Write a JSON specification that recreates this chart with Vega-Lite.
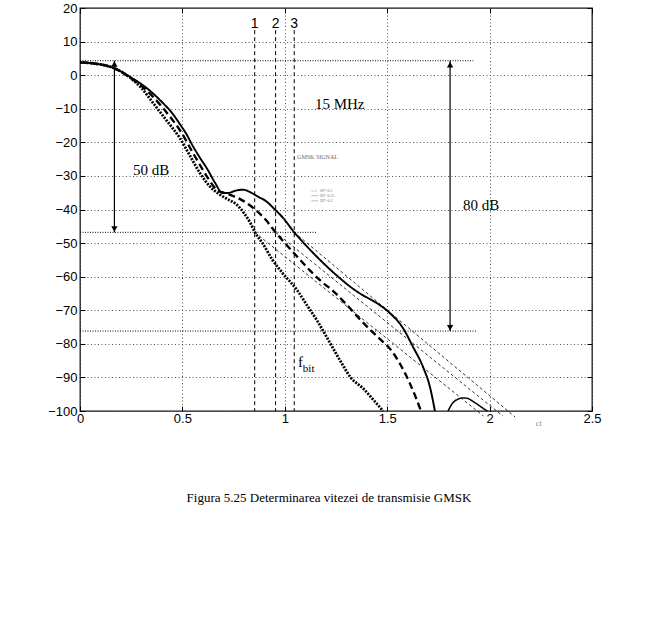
{
  "$schema": "https://vega.github.io/schema/vega-lite/v6.json",
  "width": 512,
  "height": 403,
  "autosize": {"type": "none"},
  "padding": {"left": 80, "top": 8, "right": 58, "bottom": 213},
  "background": "white",
  "config": {
    "view": {"stroke": "#111", "strokeWidth": 1.3},
    "axis": {"labelFont": "Liberation Sans", "labelFontSize": 13, "labelColor": "#000", "tickColor": "#000", "tickSize": -5, "title": null, "domain": false, "labelFlush": false, "labelOverlap": false, "gridColor": "#555", "gridDash": [1, 2.5], "gridWidth": 1}
  },
  "title": {"text": "Figura 5.25 Determinarea vitezei de transmisie GMSK", "orient": "bottom", "font": "Liberation Serif", "fontSize": 13, "fontWeight": "normal", "color": "#000", "offset": 64, "dx": -7},
  "datasets": {
    "curves": [
      {"s": "BT=0.3", "x": 0, "y": 3.8}, {"s": "BT=0.3", "x": 0.05, "y": 3.6}, {"s": "BT=0.3", "x": 0.1, "y": 3.2}, {"s": "BT=0.3", "x": 0.17, "y": 2},
      {"s": "BT=0.3", "x": 0.244, "y": -0.5}, {"s": "BT=0.3", "x": 0.327, "y": -3.9}, {"s": "BT=0.3", "x": 0.405, "y": -8.3}, {"s": "BT=0.3", "x": 0.45, "y": -11.3},
      {"s": "BT=0.3", "x": 0.488, "y": -14.6}, {"s": "BT=0.3", "x": 0.52, "y": -17.6}, {"s": "BT=0.3", "x": 0.55, "y": -21}, {"s": "BT=0.3", "x": 0.59, "y": -25},
      {"s": "BT=0.3", "x": 0.62, "y": -27.8}, {"s": "BT=0.3", "x": 0.66, "y": -32.1}, {"s": "BT=0.3", "x": 0.693, "y": -35}, {"s": "BT=0.3", "x": 0.72, "y": -35.1},
      {"s": "BT=0.3", "x": 0.766, "y": -34.3}, {"s": "BT=0.3", "x": 0.797, "y": -34.1}, {"s": "BT=0.3", "x": 0.83, "y": -34.8}, {"s": "BT=0.3", "x": 0.87, "y": -36.2},
      {"s": "BT=0.3", "x": 0.91, "y": -37.6}, {"s": "BT=0.3", "x": 0.95, "y": -39.9}, {"s": "BT=0.3", "x": 0.99, "y": -42.4}, {"s": "BT=0.3", "x": 1.046, "y": -46.8},
      {"s": "BT=0.3", "x": 1.108, "y": -51}, {"s": "BT=0.3", "x": 1.172, "y": -55}, {"s": "BT=0.3", "x": 1.22, "y": -57.8}, {"s": "BT=0.3", "x": 1.27, "y": -60.5},
      {"s": "BT=0.3", "x": 1.32, "y": -63}, {"s": "BT=0.3", "x": 1.367, "y": -65}, {"s": "BT=0.3", "x": 1.41, "y": -66.5}, {"s": "BT=0.3", "x": 1.45, "y": -67.9},
      {"s": "BT=0.3", "x": 1.514, "y": -70.9}, {"s": "BT=0.3", "x": 1.577, "y": -75.3}, {"s": "BT=0.3", "x": 1.626, "y": -80.9}, {"s": "BT=0.3", "x": 1.675, "y": -86.9},
      {"s": "BT=0.3", "x": 1.709, "y": -92.9}, {"s": "BT=0.3", "x": 1.733, "y": -100},
      {"s": "BT=0.3 lobe", "x": 1.797, "y": -100}, {"s": "BT=0.3 lobe", "x": 1.82, "y": -97.6}, {"s": "BT=0.3 lobe", "x": 1.845, "y": -96.5}, {"s": "BT=0.3 lobe", "x": 1.87, "y": -96.1},
      {"s": "BT=0.3 lobe", "x": 1.895, "y": -96.3}, {"s": "BT=0.3 lobe", "x": 1.92, "y": -97.2}, {"s": "BT=0.3 lobe", "x": 1.95, "y": -98.4}, {"s": "BT=0.3 lobe", "x": 1.968, "y": -99.2},
      {"s": "BT=0.3 lobe", "x": 1.99, "y": -100},
      {"s": "BT=0.25", "x": 0, "y": 3.8}, {"s": "BT=0.25", "x": 0.05, "y": 3.6}, {"s": "BT=0.25", "x": 0.1, "y": 3.2}, {"s": "BT=0.25", "x": 0.17, "y": 2},
      {"s": "BT=0.25", "x": 0.244, "y": -0.7}, {"s": "BT=0.25", "x": 0.3, "y": -3.2}, {"s": "BT=0.25", "x": 0.35, "y": -6}, {"s": "BT=0.25", "x": 0.405, "y": -9.8},
      {"s": "BT=0.25", "x": 0.45, "y": -13.2}, {"s": "BT=0.25", "x": 0.488, "y": -16.4}, {"s": "BT=0.25", "x": 0.55, "y": -23}, {"s": "BT=0.25", "x": 0.59, "y": -27.2},
      {"s": "BT=0.25", "x": 0.62, "y": -30.2}, {"s": "BT=0.25", "x": 0.67, "y": -34.2}, {"s": "BT=0.25", "x": 0.7, "y": -35}, {"s": "BT=0.25", "x": 0.74, "y": -35.8},
      {"s": "BT=0.25", "x": 0.79, "y": -37.2}, {"s": "BT=0.25", "x": 0.845, "y": -39.5}, {"s": "BT=0.25", "x": 0.91, "y": -43.3}, {"s": "BT=0.25", "x": 0.955, "y": -46.8},
      {"s": "BT=0.25", "x": 1.0, "y": -50}, {"s": "BT=0.25", "x": 1.06, "y": -54}, {"s": "BT=0.25", "x": 1.12, "y": -58}, {"s": "BT=0.25", "x": 1.18, "y": -61.5},
      {"s": "BT=0.25", "x": 1.24, "y": -64.5}, {"s": "BT=0.25", "x": 1.3, "y": -68.2}, {"s": "BT=0.25", "x": 1.367, "y": -72.7}, {"s": "BT=0.25", "x": 1.42, "y": -76},
      {"s": "BT=0.25", "x": 1.465, "y": -78.6}, {"s": "BT=0.25", "x": 1.514, "y": -81.5}, {"s": "BT=0.25", "x": 1.563, "y": -86}, {"s": "BT=0.25", "x": 1.61, "y": -91.7},
      {"s": "BT=0.25", "x": 1.64, "y": -96}, {"s": "BT=0.25", "x": 1.665, "y": -100},
      {"s": "BT=0.2", "x": 0, "y": 3.8}, {"s": "BT=0.2", "x": 0.05, "y": 3.6}, {"s": "BT=0.2", "x": 0.1, "y": 3.2}, {"s": "BT=0.2", "x": 0.17, "y": 2},
      {"s": "BT=0.2", "x": 0.25, "y": -1}, {"s": "BT=0.2", "x": 0.3, "y": -3.8}, {"s": "BT=0.2", "x": 0.357, "y": -8.3}, {"s": "BT=0.2", "x": 0.424, "y": -13.6},
      {"s": "BT=0.2", "x": 0.488, "y": -18.8}, {"s": "BT=0.2", "x": 0.537, "y": -24}, {"s": "BT=0.2", "x": 0.586, "y": -29.2}, {"s": "BT=0.2", "x": 0.635, "y": -33.2},
      {"s": "BT=0.2", "x": 0.684, "y": -35.6}, {"s": "BT=0.2", "x": 0.72, "y": -36.9}, {"s": "BT=0.2", "x": 0.766, "y": -38.6}, {"s": "BT=0.2", "x": 0.8, "y": -41},
      {"s": "BT=0.2", "x": 0.83, "y": -43.8}, {"s": "BT=0.2", "x": 0.855, "y": -46.8}, {"s": "BT=0.2", "x": 0.894, "y": -50.3}, {"s": "BT=0.2", "x": 0.94, "y": -55},
      {"s": "BT=0.2", "x": 0.99, "y": -59}, {"s": "BT=0.2", "x": 1.06, "y": -64}, {"s": "BT=0.2", "x": 1.108, "y": -68.5}, {"s": "BT=0.2", "x": 1.157, "y": -73},
      {"s": "BT=0.2", "x": 1.2, "y": -77.5}, {"s": "BT=0.2", "x": 1.24, "y": -81.8}, {"s": "BT=0.2", "x": 1.28, "y": -86}, {"s": "BT=0.2", "x": 1.32, "y": -89.9},
      {"s": "BT=0.2", "x": 1.383, "y": -93.3}, {"s": "BT=0.2", "x": 1.43, "y": -96.5}, {"s": "BT=0.2", "x": 1.48, "y": -100}
    ],
    "tangents": [
      {"s": "1", "x": 0.853, "y": -46.8}, {"s": "1", "x": 1.97, "y": -101.5},
      {"s": "2", "x": 0.955, "y": -46.8}, {"s": "2", "x": 2.065, "y": -101.5},
      {"s": "3", "x": 1.046, "y": -46.8}, {"s": "3", "x": 2.125, "y": -101.8}
    ],
    "verticals": [
      {"label": "1", "x": 0.853, "y": 13.4, "y2": -100},
      {"label": "2", "x": 0.955, "y": 13.4, "y2": -100},
      {"label": "3", "x": 1.046, "y": 13.4, "y2": -100}
    ],
    "levels": [
      {"x": 0, "x2": 1.92, "y": 4.3},
      {"x": 0, "x2": 1.155, "y": -46.8},
      {"x": 0, "x2": 1.937, "y": -76.2}
    ],
    "arrows": [
      {"x": 0.168, "y": 4.3, "y2": -46.8},
      {"x": 1.807, "y": 4.3, "y2": -76.2}
    ],
    "heads": [
      {"x": 0.168, "y": 3.3, "dir": "up"}, {"x": 0.168, "y": -45.8, "dir": "down"},
      {"x": 1.807, "y": 3.1, "dir": "up"}, {"x": 1.807, "y": -75.2, "dir": "down"}
    ],
    "notes": [
      {"x": 0.259, "y": -28.3, "label": "50 dB"},
      {"x": 1.147, "y": -8.6, "label": "15 MHz"},
      {"x": 1.87, "y": -38.7, "label": "80 dB"}
    ],
    "legend": [
      {"s": "BT=0.2", "x": 1.13, "x2": 1.163, "y": -34.5},
      {"s": "BT=0.25", "x": 1.13, "x2": 1.163, "y": -35.9},
      {"s": "BT=0.3", "x": 1.13, "x2": 1.163, "y": -37.4}
    ]
  },
  "resolve": {"axis": {"x": "independent", "y": "independent"}},
  "encoding": {
    "x": {"field": "x", "type": "quantitative", "scale": {"domain": [0, 2.5], "nice": false, "zero": false}, "axis": null},
    "y": {"field": "y", "type": "quantitative", "scale": {"domain": [-100, 20], "nice": false, "zero": false}, "axis": null}
  },
  "layer": [
    {
      "data": {"name": "levels"},
      "mark": {"type": "rule", "color": "#000", "strokeWidth": 1, "strokeDash": [1, 1.5]},
      "encoding": {
        "x": {"field": "x", "type": "quantitative", "scale": {"domain": [0, 2.5], "nice": false, "zero": false},
          "axis": {"orient": "bottom", "values": [0, 0.5, 1, 1.5, 2, 2.5], "format": "~g", "grid": true, "labelPadding": 6}},
        "x2": {"field": "x2"},
        "y": {"field": "y", "type": "quantitative", "scale": {"domain": [-100, 20], "nice": false, "zero": false},
          "axis": {"orient": "left", "values": [-100, -90, -80, -70, -60, -50, -40, -30, -20, -10, 0, 10, 20], "format": "d", "grid": true, "labelPadding": 8}}
      }
    },
    {
      "data": {"name": "verticals"},
      "mark": {"type": "rule", "color": "#000", "strokeWidth": 1, "strokeDash": [4, 3]},
      "encoding": {
        "x": {"field": "x", "type": "quantitative", "scale": {"domain": [0, 2.5], "nice": false, "zero": false},
          "axis": {"orient": "top", "values": [0, 0.5, 1, 1.5, 2, 2.5], "labels": false, "grid": false}},
        "y": {"field": "y", "type": "quantitative", "scale": {"domain": [-100, 20], "nice": false, "zero": false},
          "axis": {"orient": "right", "values": [-100, -90, -80, -70, -60, -50, -40, -30, -20, -10, 0, 10, 20], "labels": false, "grid": false}},
        "y2": {"field": "y2"}
      }
    },
    {
      "data": {"name": "verticals"},
      "mark": {"type": "text", "font": "Liberation Sans", "fontSize": 14, "color": "#000", "align": "center", "baseline": "alphabetic", "dy": 0},
      "encoding": {"y": {"datum": 14.0, "type": "quantitative"}, "text": {"field": "label"}}
    },
    {
      "data": {"name": "tangents"},
      "mark": {"type": "line", "color": "#000", "strokeWidth": 0.8, "strokeDash": [3, 2.5], "clip": false},
      "encoding": {"detail": {"field": "s"}}
    },
    {
      "data": {"name": "curves"},
      "mark": {"type": "line", "color": "#000", "interpolate": "monotone", "strokeCap": "butt"},
      "encoding": {
        "detail": {"field": "s"},
        "strokeDash": {"field": "s", "type": "nominal", "scale": {"domain": ["BT=0.2", "BT=0.25", "BT=0.3", "BT=0.3 lobe"], "range": [[2, 1.3], [7, 4], [1, 0], [1, 0]]}, "legend": null},
        "strokeWidth": {"field": "s", "type": "nominal", "scale": {"domain": ["BT=0.2", "BT=0.25", "BT=0.3", "BT=0.3 lobe"], "range": [2.8, 1.5, 1.4, 1.4]}, "legend": null}
      }
    },
    {
      "data": {"name": "arrows"},
      "mark": {"type": "rule", "color": "#000", "strokeWidth": 1.2},
      "encoding": {"y2": {"field": "y2"}}
    },
    {
      "data": {"name": "heads"},
      "mark": {"type": "point", "filled": true, "color": "#000", "size": 40, "opacity": 1},
      "encoding": {"shape": {"field": "dir", "type": "nominal", "scale": {"domain": ["up", "down"], "range": ["triangle-up", "triangle-down"]}, "legend": null}}
    },
    {
      "data": {"name": "notes"},
      "mark": {"type": "text", "font": "Liberation Serif", "fontSize": 15, "color": "#000", "align": "left", "baseline": "middle"},
      "encoding": {"text": {"field": "label"}}
    },
    {
      "data": {"values": [{"x": 1.06, "y": -24.3, "label": "GMSK SIGNAL"}]},
      "mark": {"type": "text", "font": "Liberation Serif", "fontSize": 6, "color": "#666", "align": "left", "baseline": "middle"},
      "encoding": {"text": {"field": "label"}}
    },
    {
      "data": {"name": "legend"},
      "mark": {"type": "rule", "color": "#888", "strokeWidth": 0.6},
      "encoding": {
        "x2": {"field": "x2"},
        "strokeDash": {"field": "s", "type": "nominal", "scale": {"domain": ["BT=0.2", "BT=0.25", "BT=0.3"], "range": [[1, 1], [1, 0], [2, 1]]}, "legend": null}
      }
    },
    {
      "data": {"name": "legend"},
      "mark": {"type": "text", "font": "Liberation Serif", "fontSize": 4, "color": "#777", "align": "left", "baseline": "middle", "dx": 2},
      "encoding": {"x": {"field": "x2", "type": "quantitative", "scale": {"domain": [0, 2.5], "nice": false, "zero": false}, "axis": null}, "text": {"field": "s"}}
    },
    {
      "data": {"values": [{"x": 1.064, "y": -86.8, "label": "f"}]},
      "mark": {"type": "text", "font": "Liberation Serif", "fontSize": 15, "color": "#000", "align": "left", "baseline": "alphabetic"},
      "encoding": {"text": {"field": "label"}}
    },
    {
      "data": {"values": [{"x": 1.088, "y": -88.3, "label": "bit"}]},
      "mark": {"type": "text", "font": "Liberation Serif", "fontSize": 11, "color": "#000", "align": "left", "baseline": "alphabetic"},
      "encoding": {"text": {"field": "label"}}
    },
    {
      "data": {"values": [{"x": 2.24, "y": -103.9, "label": "ct"}]},
      "mark": {"type": "text", "font": "Liberation Serif", "fontSize": 8, "color": "#888", "align": "center", "baseline": "middle"},
      "encoding": {"text": {"field": "label"}}
    }
  ]
}
